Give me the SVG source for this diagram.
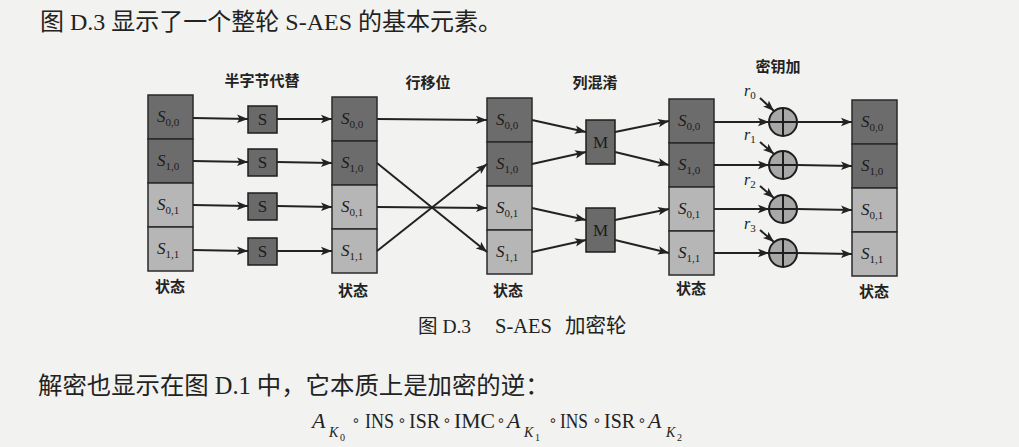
<svg xmlns="http://www.w3.org/2000/svg" width="1019" height="447" viewBox="0 0 1019 447">
<style>
.bg{fill:#f2f2f0}
.dk{fill:#6c6c6c;stroke:#2a2a2a;stroke-width:1.5}
.lt{fill:#b6b6b6;stroke:#2a2a2a;stroke-width:1.5}
.box{fill:#6a6a6a;stroke:#1e1e1e;stroke-width:1.5}
.xor{fill:#a8a8a8;stroke:#1e1e1e;stroke-width:2}
.xl{stroke:#1e1e1e;stroke-width:2}
.cn line{stroke:#222;stroke-width:2;marker-end:url(#ah)}
.cell{font-family:"Liberation Serif",serif;font-style:italic;font-size:17px;fill:#1c1c1c}
.sub{font-style:normal;font-size:11px}
.bl{font-family:"Liberation Serif",serif;font-size:17px;fill:#1c1c1c;text-anchor:middle}
.hd{font-family:"Noto Sans CJK SC",sans-serif;font-weight:bold;font-size:15px;fill:#222;text-anchor:middle}
.tx{font-family:"Liberation Serif","Noto Sans CJK SC",serif;fill:#222}
.it{font-family:"Liberation Serif",serif;font-style:italic;fill:#222}
.rm{font-family:"Liberation Serif",serif;fill:#222}
.op{font-family:"DejaVu Sans",sans-serif;font-size:14px;fill:#222;text-anchor:middle}
</style>
<defs>
<marker id="ah" markerUnits="userSpaceOnUse" markerWidth="12" markerHeight="10" refX="11" refY="5" orient="auto">
<path d="M0,0.8 L11,5 L0,9.2 L2.5,5 Z" fill="#222"/>
</marker>
</defs>
<rect class="bg" x="0" y="0" width="1019" height="447"/>

<text class="tx" x="40" y="30" font-size="24">图 D.3 显示了一个整轮 S-AES 的基本元素。</text>

<text class="hd" x="262" y="86">半字节代替</text>
<text class="hd" x="428" y="88">行移位</text>
<text class="hd" x="595" y="88">列混淆</text>
<text class="hd" x="778" y="72">密钥加</text>

<g id="state1">
<rect class="dk" x="148" y="95" width="45" height="44"/>
<rect class="dk" x="148" y="139" width="45" height="44"/>
<rect class="lt" x="148" y="183" width="45" height="44"/>
<rect class="lt" x="148" y="227" width="45" height="44"/>
<text class="cell" x="157" y="122">S<tspan class="sub" dy="4">0,0</tspan></text>
<text class="cell" x="157" y="166">S<tspan class="sub" dy="4">1,0</tspan></text>
<text class="cell" x="157" y="210">S<tspan class="sub" dy="4">0,1</tspan></text>
<text class="cell" x="157" y="254">S<tspan class="sub" dy="4">1,1</tspan></text>
<text class="hd" x="170" y="292">状态</text>
</g>

<g id="sboxes">
<rect class="box" x="248" y="106" width="29" height="27"/>
<rect class="box" x="248" y="149" width="29" height="27"/>
<rect class="box" x="248" y="193" width="29" height="27"/>
<rect class="box" x="248" y="238" width="29" height="27"/>
<text class="bl" x="262.5" y="125">S</text>
<text class="bl" x="262.5" y="168">S</text>
<text class="bl" x="262.5" y="212">S</text>
<text class="bl" x="262.5" y="257">S</text>
</g>

<g id="state2">
<rect class="dk" x="332" y="97" width="45" height="44"/>
<rect class="dk" x="332" y="141" width="45" height="44"/>
<rect class="lt" x="332" y="185" width="45" height="44"/>
<rect class="lt" x="332" y="229" width="45" height="44"/>
<text class="cell" x="341" y="124">S<tspan class="sub" dy="4">0,0</tspan></text>
<text class="cell" x="341" y="168">S<tspan class="sub" dy="4">1,0</tspan></text>
<text class="cell" x="341" y="212">S<tspan class="sub" dy="4">0,1</tspan></text>
<text class="cell" x="341" y="256">S<tspan class="sub" dy="4">1,1</tspan></text>
<text class="hd" x="353" y="296">状态</text>
</g>

<g id="state3">
<rect class="dk" x="487" y="98" width="45" height="44"/>
<rect class="dk" x="487" y="142" width="45" height="44"/>
<rect class="lt" x="487" y="186" width="45" height="44"/>
<rect class="lt" x="487" y="230" width="45" height="44"/>
<text class="cell" x="496" y="125">S<tspan class="sub" dy="4">0,0</tspan></text>
<text class="cell" x="496" y="169">S<tspan class="sub" dy="4">1,0</tspan></text>
<text class="cell" x="496" y="213">S<tspan class="sub" dy="4">0,1</tspan></text>
<text class="cell" x="496" y="257">S<tspan class="sub" dy="4">1,1</tspan></text>
<text class="hd" x="508" y="296">状态</text>
</g>

<g id="mix">
<rect class="box" x="586" y="120" width="29" height="44"/>
<rect class="box" x="586" y="208" width="29" height="44"/>
<text class="bl" x="600.5" y="148">M</text>
<text class="bl" x="600.5" y="236">M</text>
</g>

<g id="state4">
<rect class="dk" x="669" y="99" width="45" height="44"/>
<rect class="dk" x="669" y="143" width="45" height="44"/>
<rect class="lt" x="669" y="187" width="45" height="44"/>
<rect class="lt" x="669" y="231" width="45" height="44"/>
<text class="cell" x="678" y="126">S<tspan class="sub" dy="4">0,0</tspan></text>
<text class="cell" x="678" y="170">S<tspan class="sub" dy="4">1,0</tspan></text>
<text class="cell" x="678" y="214">S<tspan class="sub" dy="4">0,1</tspan></text>
<text class="cell" x="678" y="258">S<tspan class="sub" dy="4">1,1</tspan></text>
<text class="hd" x="691" y="294">状态</text>
</g>

<g id="keyadd">
<circle class="xor" cx="783" cy="122" r="14"/>
<line class="xl" x1="769" y1="122" x2="797" y2="122"/><line class="xl" x1="783" y1="108" x2="783" y2="136"/>
<circle class="xor" cx="783" cy="165" r="14"/>
<line class="xl" x1="769" y1="165" x2="797" y2="165"/><line class="xl" x1="783" y1="151" x2="783" y2="179"/>
<circle class="xor" cx="783" cy="209" r="14"/>
<line class="xl" x1="769" y1="209" x2="797" y2="209"/><line class="xl" x1="783" y1="195" x2="783" y2="223"/>
<circle class="xor" cx="783" cy="253" r="14"/>
<line class="xl" x1="769" y1="253" x2="797" y2="253"/><line class="xl" x1="783" y1="239" x2="783" y2="267"/>
<text class="it" x="744" y="96" font-size="16">r<tspan class="sub" dy="3">0</tspan></text>
<text class="it" x="744" y="140" font-size="16">r<tspan class="sub" dy="3">1</tspan></text>
<text class="it" x="744" y="185" font-size="16">r<tspan class="sub" dy="3">2</tspan></text>
<text class="it" x="744" y="229" font-size="16">r<tspan class="sub" dy="3">3</tspan></text>
</g>

<g id="state5">
<rect class="dk" x="852" y="100" width="45" height="44"/>
<rect class="dk" x="852" y="144" width="45" height="44"/>
<rect class="lt" x="852" y="188" width="45" height="44"/>
<rect class="lt" x="852" y="232" width="45" height="44"/>
<text class="cell" x="861" y="127">S<tspan class="sub" dy="4">0,0</tspan></text>
<text class="cell" x="861" y="171">S<tspan class="sub" dy="4">1,0</tspan></text>
<text class="cell" x="861" y="215">S<tspan class="sub" dy="4">0,1</tspan></text>
<text class="cell" x="861" y="259">S<tspan class="sub" dy="4">1,1</tspan></text>
<text class="hd" x="874" y="297">状态</text>
</g>

<g id="connectors" class="cn">
<line x1="193" y1="118" x2="248" y2="119"/>
<line x1="193" y1="161" x2="248" y2="162"/>
<line x1="193" y1="205" x2="248" y2="206"/>
<line x1="193" y1="250" x2="248" y2="251"/>
<line x1="277" y1="119" x2="332" y2="119"/>
<line x1="277" y1="162" x2="332" y2="163"/>
<line x1="277" y1="206" x2="332" y2="207"/>
<line x1="277" y1="251" x2="332" y2="251"/>
<line x1="377" y1="119" x2="487" y2="120"/>
<line x1="377" y1="207" x2="487" y2="208"/>
<line x1="377" y1="163" x2="487" y2="252"/>
<line x1="377" y1="251" x2="487" y2="164"/>
<line x1="532" y1="120" x2="586" y2="132"/>
<line x1="532" y1="164" x2="586" y2="152"/>
<line x1="532" y1="208" x2="586" y2="220"/>
<line x1="532" y1="252" x2="586" y2="240"/>
<line x1="615" y1="132" x2="669" y2="121"/>
<line x1="615" y1="152" x2="669" y2="165"/>
<line x1="615" y1="220" x2="669" y2="209"/>
<line x1="615" y1="240" x2="669" y2="253"/>
<line x1="714" y1="122" x2="769" y2="122"/>
<line x1="714" y1="165" x2="769" y2="165"/>
<line x1="714" y1="209" x2="769" y2="209"/>
<line x1="714" y1="253" x2="769" y2="253"/>
<line x1="797" y1="122" x2="852" y2="122"/>
<line x1="797" y1="165" x2="852" y2="166"/>
<line x1="797" y1="209" x2="852" y2="210"/>
<line x1="797" y1="253" x2="852" y2="254"/>
<line x1="760" y1="98" x2="774" y2="111"/>
<line x1="760" y1="142" x2="774" y2="154"/>
<line x1="760" y1="186" x2="774" y2="198"/>
<line x1="760" y1="230" x2="774" y2="242"/>
</g>

<g id="caption">
<text class="tx" x="418" y="333" font-size="19.5">图 D.3</text>
<text class="tx" x="495" y="333" font-size="20.5">S-AES</text>
<text class="tx" x="565" y="333" font-size="20.5">加密轮</text>
</g>

<text class="tx" x="38" y="394" font-size="24.4">解密也显示在图 D.1 中，它本质上是加密的逆：</text>

<g id="formula" font-size="21">
<text class="it" x="312" y="428" font-size="22">A</text>
<text class="it" x="329" y="437" font-size="14">K</text>
<text class="rm" x="340" y="441" font-size="10">0</text>
<text class="op" x="356" y="425">∘</text>
<text class="rm" x="365" y="428" textLength="29" lengthAdjust="spacingAndGlyphs">INS</text>
<text class="op" x="402" y="425">∘</text>
<text class="rm" x="409" y="428" textLength="31" lengthAdjust="spacingAndGlyphs">ISR</text>
<text class="op" x="447" y="425">∘</text>
<text class="rm" x="454" y="428" textLength="41" lengthAdjust="spacingAndGlyphs">IMC</text>
<text class="op" x="501" y="425">∘</text>
<text class="it" x="507" y="428" font-size="22">A</text>
<text class="it" x="524" y="437" font-size="14">K</text>
<text class="rm" x="535" y="441" font-size="10">1</text>
<text class="op" x="553" y="425">∘</text>
<text class="rm" x="560" y="428" textLength="28" lengthAdjust="spacingAndGlyphs">INS</text>
<text class="op" x="597" y="425">∘</text>
<text class="rm" x="604" y="428" textLength="31" lengthAdjust="spacingAndGlyphs">ISR</text>
<text class="op" x="642" y="425">∘</text>
<text class="it" x="648" y="428" font-size="22">A</text>
<text class="it" x="666" y="437" font-size="14">K</text>
<text class="rm" x="677" y="441" font-size="10">2</text>
</g>
</svg>
